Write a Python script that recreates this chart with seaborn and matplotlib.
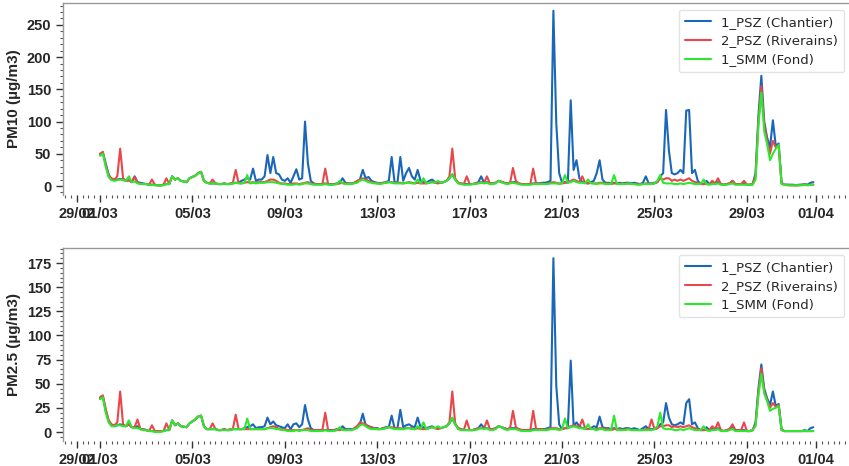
import numpy as np
import pandas as pd
import matplotlib
matplotlib.use("Agg")
import matplotlib.pyplot as plt
import matplotlib.dates as mdates
import seaborn as sns

nan = float("nan")

# 3-hourly values, 01/03 00:00 -> 31/03 21:00 (8 values per day)
pm10_psz1 = [
    48, 52, 35, 18, 10, 9, 10, 11,
    10, 8, 9, 6, 15, 6, 5, 4,
    3, 2, 2, 2, 1, 1, 2, 3,
    3, 15, 10, 12, 8, nan, 6, 12,
    14, 16, 20, 22, 8, 5, 4, 4,
    4, 3, 3, 4, 3, 3, 4, 5,
    5, 8, 10, 12, 10, 27, 8, 10,
    10, 15, 48, 20, 45, 20, 18, 10,
    8, 12, 5, 15, 26, 10, 12, 100,
    35, 8, 4, 3, 3, 3, 4, 3,
    3, 3, 4, 5, 12, 5, 4, 4,
    5, 6, 10, 25, 12, 14, 8, 6,
    5, 4, 5, 6, 8, 45, 6, 5,
    45, 8, 20, 28, 15, 10, 25, 8,
    6, 5, 8, 10, 6, 5, 5, 6,
    8, 12, 18, 10, 5, 4, 3, 3,
    3, 3, 4, 6, 15, 5, 6, 4,
    4, 5, 8, 6, 5, 4, 5, 6,
    6, 4, 3, 3, 3, 3, 4, 4,
    4, 5, 5, 6, 8, 272, 97, 20,
    5, 6, 5, 133, 25, 40, 12, 6,
    5, 4, 6, 8, 20, 40, 10, 5,
    5, 4, 5, 4, 5, 4, 5, 5,
    4, 5, 4, 3, 5, 15, 4, 4,
    5, 6, 15, 20, 118, 55, 20, 18,
    20, 25, 20, 117, 118, 20, 25, 8,
    3, 3, 8, 3, 4, 3, 6, 3,
    2, 3, 4, 8, 3, 3, 3, 4,
    2, 2, 3, 20, 110, 171, 100, 75,
    60, 102, 62, 66, 5, 2, 2, 2,
    2, 1, 2, 2, 3, 2, 5, 6,
]
pm10_psz2 = [
    50, 53, 32, 16, 12, 10, 15, 58,
    12, 8, 9, 6, 14, 5, 4, 3,
    3, 2, 10, 2, 1, 1, 2, 12,
    3, 15, 10, 12, 8, nan, 6, 12,
    14, 16, 20, 22, 8, 5, 4, 10,
    4, 3, 3, 4, 3, 4, 5, 25,
    5, 4, 5, 6, 5, 6, 5, 6,
    6, 6, 8, 10, 10, 8, 5, 4,
    4, 3, 3, 4, 4, 3, 4, 5,
    6, 4, 3, 3, 3, 3, 27, 3,
    2, 3, 3, 4, 5, 4, 4, 3,
    5, 8, 10, 12, 10, 8, 6, 5,
    4, 4, 5, 5, 6, 6, 5, 5,
    5, 4, 5, 6, 5, 4, 5, 4,
    4, 4, 5, 6, 5, 4, 5, 6,
    8, 15, 58, 12, 5, 4, 3, 15,
    3, 3, 4, 5, 6, 5, 15, 4,
    4, 5, 8, 7, 5, 4, 5, 28,
    8, 4, 3, 3, 3, 3, 27, 4,
    4, 4, 3, 4, 5, 6, 5, 4,
    4, 5, 6, 8, 10, 8, 6, 15,
    5, 4, 5, 4, 4, 5, 5, 4,
    4, 3, 4, 4, 4, 3, 4, 4,
    3, 3, 3, 3, 3, 4, 4, 3,
    4, 6, 12, 10, 12, 12, 8, 10,
    8, 10, 8, 10, 12, 8, 6, 5,
    3, 3, 3, 3, 8, 4, 12, 3,
    2, 3, 4, 8, 3, 3, 3, 8,
    2, 2, 3, 15, 100, 155, 95, 70,
    50, 70, 60, 62, 4, 2, 2, 1,
    1, 1, 1, 2, 2, 2, 2, 2,
]
pm10_smm = [
    47, 50, 30, 14, 9, 8, 9, 10,
    9, 8, 15, 6, 7, 4, 3, 3,
    3, 2, 2, 1, 1, 1, 1, 3,
    3, 15, 10, 12, 8, nan, 6, 12,
    14, 16, 20, 22, 8, 5, 4, 4,
    4, 3, 3, 3, 3, 3, 4, 5,
    4, 4, 5, 17, 4, 5, 4, 5,
    5, 5, 6, 6, 6, 5, 4, 3,
    3, 2, 2, 2, 3, 2, 3, 4,
    4, 3, 2, 2, 2, 2, 3, 2,
    2, 2, 3, 8, 4, 3, 3, 3,
    4, 5, 8, 10, 8, 6, 5, 4,
    4, 3, 4, 5, 6, 5, 4, 4,
    4, 4, 5, 5, 4, 4, 10, 4,
    12, 4, 5, 6, 5, 8, 5, 6,
    8, 12, 18, 10, 4, 3, 2, 2,
    2, 3, 3, 4, 5, 4, 5, 3,
    3, 4, 8, 6, 4, 3, 4, 5,
    4, 3, 2, 2, 2, 2, 3, 3,
    3, 3, 3, 3, 4, 4, 4, 3,
    4, 17, 5, 6, 8, 6, 5, 5,
    4, 10, 4, 4, 3, 4, 4, 3,
    3, 3, 17, 3, 3, 3, 3, 4,
    3, 3, 2, 2, 3, 3, 3, 3,
    4, 8, 17, 5, 4, 4, 4, 3,
    3, 4, 3, 4, 5, 4, 3, 3,
    3, 10, 3, 2, 3, 3, 4, 2,
    2, 2, 3, 4, 2, 2, 2, 2,
    2, 2, 2, 10, 95, 145, 85, 65,
    40, 50, 58, 64, 3, 2, 1, 1,
    1, 1, 1, 1, 2, 1, 2, 2,
]

pm25_psz1 = [
    35, 37, 22, 12, 7, 6, 7, 8,
    7, 6, 8, 5, 5, 6, 3, 3,
    2, 1, 1, 1, 1, 1, 1, 2,
    2, 12, 7, 9, 6, nan, 5, 9,
    11, 13, 16, 17, 6, 3, 3, 3,
    3, 2, 2, 3, 2, 2, 3, 3,
    3, 3, 4, 5, 6, 8, 4, 5,
    5, 6, 15, 8, 11, 7, 6, 5,
    4, 8, 3, 8, 9, 5, 8, 28,
    13, 4, 2, 2, 2, 2, 2, 2,
    2, 2, 3, 3, 6, 3, 3, 3,
    3, 5, 8, 19, 7, 6, 5, 4,
    4, 3, 4, 5, 5, 17, 4, 4,
    23, 5, 7, 8, 6, 5, 15, 5,
    5, 4, 5, 6, 4, 4, 4, 5,
    6, 9, 14, 8, 4, 3, 2, 2,
    2, 2, 3, 4, 8, 4, 4, 3,
    3, 4, 6, 5, 4, 3, 4, 4,
    4, 3, 2, 2, 2, 2, 3, 3,
    3, 3, 3, 4, 5, 180, 48, 8,
    3, 4, 4, 74, 6, 10, 6, 4,
    4, 3, 4, 6, 5, 16, 5, 4,
    4, 3, 4, 3, 4, 3, 4, 4,
    3, 4, 3, 2, 4, 6, 3, 3,
    3, 4, 8, 10, 30, 15, 8, 7,
    8, 10, 8, 30, 34, 8, 10, 4,
    2, 2, 5, 2, 3, 2, 4, 2,
    1, 2, 3, 6, 2, 2, 2, 2,
    1, 1, 2, 10, 45, 70, 45, 35,
    28, 42, 27, 29, 3, 1, 1, 1,
    1, 1, 1, 1, 2, 1, 4, 5,
]
pm25_psz2 = [
    36, 38, 24, 12, 8, 7, 10, 42,
    8, 6, 8, 5, 5, 13, 3, 3,
    2, 1, 7, 1, 1, 1, 1, 9,
    2, 12, 7, 9, 6, nan, 5, 9,
    11, 13, 16, 17, 6, 3, 3, 9,
    3, 2, 2, 3, 2, 3, 3, 18,
    3, 3, 3, 3, 3, 3, 3, 3,
    3, 3, 4, 5, 6, 5, 3, 3,
    3, 2, 2, 2, 2, 2, 2, 3,
    4, 2, 2, 2, 2, 2, 20, 2,
    1, 2, 2, 2, 3, 2, 2, 2,
    4, 6, 10, 9, 8, 6, 4, 4,
    3, 3, 4, 4, 5, 5, 4, 4,
    4, 3, 4, 4, 4, 3, 4, 3,
    3, 3, 4, 5, 4, 3, 4, 5,
    6, 10, 42, 9, 4, 3, 2, 12,
    2, 2, 3, 4, 4, 4, 12, 3,
    3, 4, 6, 5, 4, 3, 4, 22,
    5, 3, 2, 2, 2, 2, 22, 3,
    3, 3, 2, 3, 4, 4, 4, 3,
    3, 4, 5, 6, 7, 6, 5, 13,
    4, 3, 4, 3, 3, 4, 4, 3,
    3, 2, 3, 3, 3, 2, 3, 3,
    2, 2, 2, 2, 2, 3, 3, 13,
    3, 4, 6, 6, 7, 7, 5, 6,
    5, 6, 5, 6, 7, 5, 4, 3,
    2, 2, 2, 2, 6, 3, 10, 2,
    1, 2, 3, 8, 2, 2, 2, 10,
    1, 1, 2, 8, 42, 66, 42, 33,
    25, 30, 26, 28, 2, 1, 1, 1,
    1, 1, 1, 1, 1, 1, 1, 1,
]
pm25_smm = [
    34, 36, 20, 10, 6, 6, 7, 7,
    6, 6, 12, 5, 4, 4, 3, 2,
    2, 1, 1, 0, 0, 0, 1, 2,
    2, 12, 7, 9, 6, nan, 5, 9,
    11, 13, 16, 17, 6, 3, 3, 3,
    3, 2, 2, 2, 2, 2, 3, 3,
    3, 3, 3, 14, 3, 3, 3, 3,
    3, 3, 4, 4, 4, 3, 3, 2,
    2, 1, 1, 1, 2, 1, 2, 2,
    2, 1, 1, 1, 1, 1, 2, 1,
    1, 1, 2, 5, 2, 2, 2, 2,
    3, 4, 7, 8, 6, 4, 3, 3,
    3, 3, 3, 4, 5, 4, 3, 3,
    3, 3, 4, 4, 3, 3, 6, 3,
    10, 3, 4, 5, 4, 6, 4, 5,
    6, 9, 15, 8, 3, 2, 2, 2,
    2, 2, 2, 3, 4, 3, 4, 2,
    2, 3, 6, 5, 3, 2, 3, 3,
    3, 2, 1, 1, 1, 1, 2, 2,
    2, 2, 2, 2, 3, 3, 3, 2,
    3, 14, 4, 5, 6, 5, 4, 4,
    3, 8, 3, 3, 2, 3, 3, 2,
    2, 2, 17, 2, 2, 2, 2, 3,
    2, 2, 2, 2, 2, 2, 2, 2,
    3, 6, 20, 4, 3, 3, 3, 2,
    2, 3, 2, 3, 4, 3, 2, 2,
    2, 6, 2, 1, 2, 2, 3, 1,
    1, 1, 2, 3, 1, 1, 1, 1,
    1, 1, 2, 6, 38, 60, 40, 32,
    22, 24, 25, 27, 2, 1, 1, 1,
    1, 1, 1, 1, 1, 1, 1, 1,
]

stations = ["1_PSZ (Chantier)", "2_PSZ (Riverains)", "1_SMM (Fond)"]
colors = ["#1a66b8", "#e8474b", "#2ee82e"]
ylabels = ["PM10 (µg/m3)", "PM2.5 (µg/m3)"]

times = pd.date_range("2024-03-01 00:00", periods=len(pm10_psz1), freq="3h")

sns.set_style("ticks")
plt.rcParams["font.family"] = ["Liberation Sans", "DejaVu Sans"]
plt.rcParams["font.weight"] = "bold"
plt.rcParams["axes.labelweight"] = "bold"

fig = plt.figure(figsize=(8.49, 4.66), dpi=100)
ax1 = fig.add_axes([0.0742, 0.5815, 0.928, 0.412])
ax2 = fig.add_axes([0.0742, 0.0536, 0.928, 0.414])

panels = [
    (ax1, [pm10_psz1, pm10_psz2, pm10_smm], (-14, 284), 50, 10),
    (ax2, [pm25_psz1, pm25_psz2, pm25_smm], (-9.3, 190.5), 25, 5),
]

x0 = pd.Timestamp("2024-03-01") - pd.Timedelta(days=1.6)
x1 = pd.Timestamp("2024-04-01") + pd.Timedelta(days=1.5)

for (ax, series, ylim, major, minor), ylab in zip(panels, ylabels):
    for vals, name, col in zip(series, stations, colors):
        df = pd.DataFrame({"time": times, "value": vals})
        sns.lineplot(data=df, x="time", y="value", ax=ax, color=col,
                     label=name, linewidth=1.5)
    ax.set_xlim(x0, x1)
    ax.set_ylim(*ylim)
    ax.set_xlabel("")
    ax.set_ylabel(ylab, fontsize=11, fontweight="bold", labelpad=4)
    ax.xaxis.set_major_locator(mdates.DayLocator(bymonthday=[1, 5, 9, 13, 17, 21, 25, 29]))
    ax.xaxis.set_major_formatter(mdates.DateFormatter("%d/%m"))
    ax.xaxis.set_minor_locator(mdates.HourLocator(byhour=[0, 6, 12, 18]))
    ax.yaxis.set_major_locator(matplotlib.ticker.MultipleLocator(major))
    ax.yaxis.set_minor_locator(matplotlib.ticker.MultipleLocator(minor))
    ax.tick_params(axis="both", which="major", labelsize=10.5, length=5, width=1, color="#333333")
    ax.tick_params(axis="both", which="minor", length=2.5, width=0.8, color="#555555")
    for lbl in ax.get_xticklabels() + ax.get_yticklabels():
        lbl.set_fontweight("bold")
    ax.spines["bottom"].set_visible(False)
    ax.spines["right"].set_visible(False)
    ax.spines["top"].set_color("#999999")
    ax.spines["left"].set_color("#999999")
    ax.spines["top"].set_linewidth(1)
    ax.spines["left"].set_linewidth(1)
    leg = ax.legend(loc="upper right", bbox_to_anchor=(1.0, 1.0),
                    prop={"family": "DejaVu Sans", "weight": "normal", "size": 9.5},
                    frameon=True, framealpha=0.8, edgecolor="#dddddd",
                    borderpad=0.45, labelspacing=0.45, handlelength=2.0)
    for h in leg.get_lines():
        h.set_linewidth(1.5)

fig.savefig("out.png", dpi=100)
